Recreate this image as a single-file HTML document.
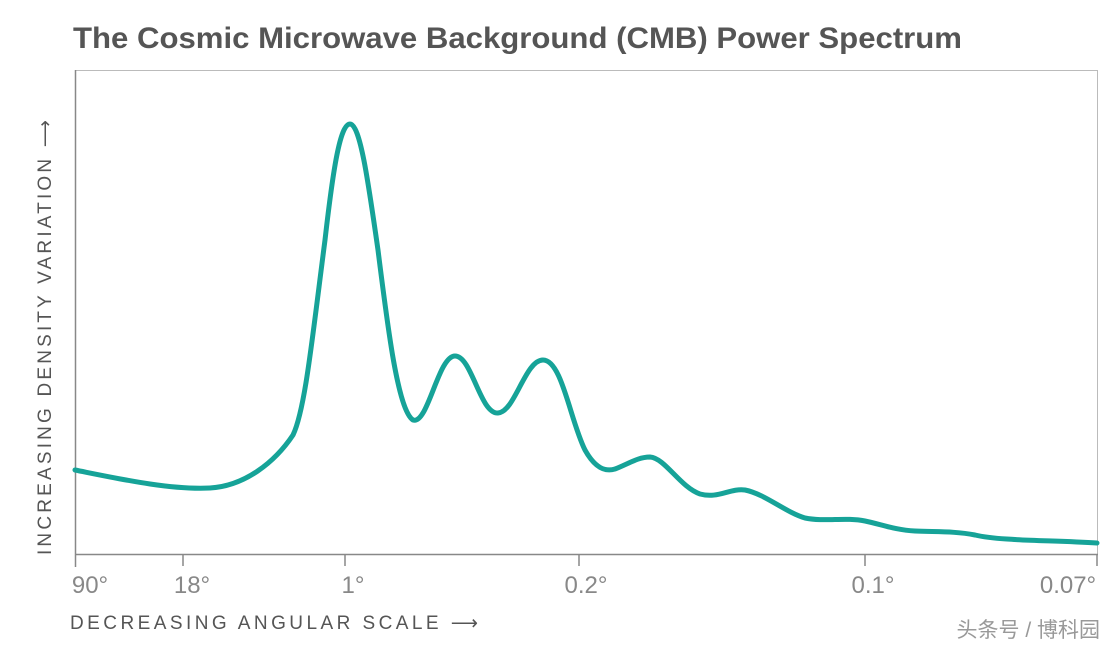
<!DOCTYPE html>
<html><head><meta charset="utf-8"><style>
body{margin:0;background:#fff;width:1120px;height:652px;overflow:hidden;font-family:"Liberation Sans",sans-serif}
</style></head><body>
<svg width="1120" height="652" viewBox="0 0 1120 652" xmlns="http://www.w3.org/2000/svg">
<text x="73" y="48" font-size="30" font-weight="bold" fill="#555" textLength="889" lengthAdjust="spacingAndGlyphs" font-family="Liberation Sans, sans-serif">The Cosmic Microwave Background (CMB) Power Spectrum</text>
<rect x="75.5" y="70.5" width="1022" height="484" fill="none" stroke="#bbb" stroke-width="1"/>
<line x1="75" y1="554.5" x2="1098" y2="554.5" stroke="#888" stroke-width="1.5"/>
<line x1="75.5" y1="70" x2="75.5" y2="567" stroke="#888" stroke-width="1.5"/>
<g stroke="#888" stroke-width="1.5">
<line x1="183" y1="554" x2="183" y2="566"/><line x1="345" y1="554" x2="345" y2="566"/><line x1="579" y1="554" x2="579" y2="566"/><line x1="865" y1="554" x2="865" y2="566"/><line x1="1097" y1="554" x2="1097" y2="566"/>
</g>
<g font-size="24" fill="#888" text-anchor="middle">
<text x="90" y="593">90°</text><text x="192" y="593">18°</text><text x="353" y="593">1°</text><text x="586" y="593">0.2°</text><text x="873" y="593">0.1°</text><text x="1068" y="593">0.07°</text>
</g>
<text x="70" y="629" font-size="19" fill="#555" textLength="408" lengthAdjust="spacing">DECREASING ANGULAR SCALE ⟶</text>
<text transform="translate(51,555) rotate(-90)" font-size="19" fill="#555" textLength="435" lengthAdjust="spacing">INCREASING DENSITY VARIATION ⟶</text>
<text x="1100" y="637" font-size="21" fill="#999" text-anchor="end" font-family="Liberation Sans, Noto Sans CJK SC, sans-serif">头条号 / 博科园</text>
<path fill="none" stroke="#16a398" stroke-width="5" stroke-linejoin="round" stroke-linecap="round"
d="M75,470 C120,479 170,490 210,488 C245,486 275,462 293,435 C305,410 312,340 325,240 C333,170 340,124 350,124 C360,124 368,180 378,250 C388,330 398,410 413,420 C428,425 438,356 455,356 C472,356 480,414 498,413 C515,412 525,360 543,360 C562,360 570,420 585,450 C595,468 605,472 615,469 C628,464 638,457 650,457 C665,458 680,487 700,494 C718,499 730,488 745,490 C765,494 785,512 805,518 C825,522 845,517 865,521 C880,524 895,530 915,531 C935,532 955,531 975,535 C1000,541 1050,540 1097,543"/>
</svg>
</body></html>
